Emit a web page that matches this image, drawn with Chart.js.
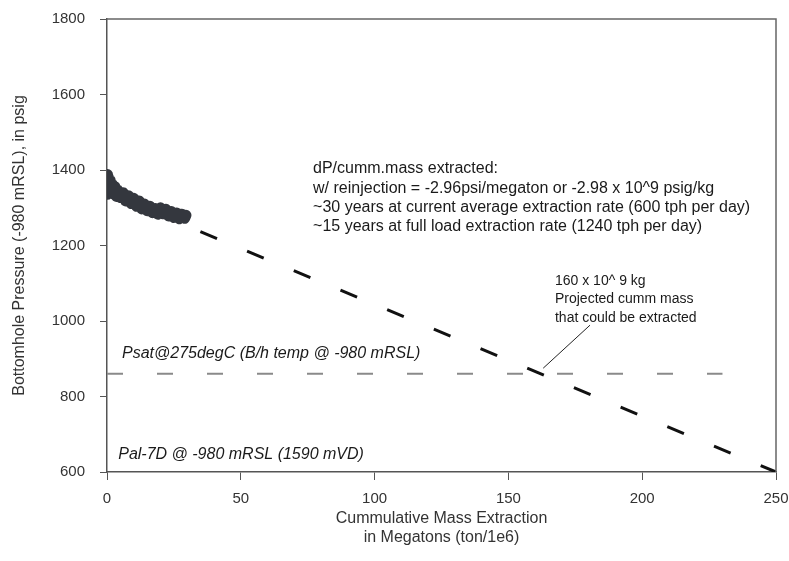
<!DOCTYPE html>
<html>
<head>
<meta charset="utf-8">
<script src="https://cdn.jsdelivr.net/npm/chart.js@4.4.1/dist/chart.umd.min.js"></script>
<style>
  body { margin: 0; background: #fff; }
  canvas { display: block; }
</style>
</head>
<body>
<canvas id="chart" width="789" height="561"></canvas>
<script>
// Axis ranges and ticks
const xRange = [0, 250];
const yRange = [600, 1800];
const xStep = 50;
const yStep = 200;

// Measured bottomhole pressure
const measMass = [0, 0.2, 0.5, 0.8, 1.2, 1.6, 2, 2.5, 3, 3.5, 4, 5, 6, 7, 8, 9, 10, 11, 12, 13, 14, 15, 16, 17, 18, 19, 20, 21, 22, 23, 24, 25, 26, 27, 28, 29, 29.5];
const measPressure = [1388, 1336, 1380, 1345, 1372, 1340, 1362, 1336, 1355, 1330, 1347, 1327, 1340, 1318, 1332, 1311, 1325, 1304, 1318, 1297, 1310, 1292, 1304, 1287, 1298, 1283, 1300, 1284, 1296, 1278, 1290, 1274, 1286, 1271, 1283, 1272, 1280];

// Projection at -2.96 psi/megaton
const projMass = [0, 250];
const projPressure = [1340, 600];

// Saturation pressure at 275 degC
const psatMass = [0, 230];
const psatPressure = [860, 860];

// Leader line for the 160 x 10^9 kg note
const leaderMass = [163, 180.5];
const leaderPressure = [875, 989];

const noteLines = [
    "dP/cumm.mass extracted:",
    "w/ reinjection = -2.96psi/megaton or -2.98 x 10^9 psig/kg",
    "~30 years at current average extraction rate (600 tph per day)",
    "~15 years at full load extraction rate (1240 tph per day)"
];
const massNote = ["160 x 10^ 9 kg", "Projected cumm mass", "that could be extracted"];
const psatLabel = "Psat@275degC (B/h temp @ -980 mRSL)";
const wellLabel = "Pal-7D @ -980 mRSL (1590 mVD)";

const toPoints = (xs, ys) => xs.map((x, i) => ({ x: x, y: ys[i] }));
const FONT = "'Liberation Sans', Arial, sans-serif";

// Frame and text labels
const extrasPlugin = {
    id: 'extras',
    afterDatasetsDraw(chart) {
        const { ctx, chartArea: a, scales: { x, y } } = chart;
        ctx.save();
        ctx.strokeStyle = '#666';
        ctx.lineWidth = 1.5;
        ctx.beginPath();
        ctx.moveTo(a.left, a.top);
        ctx.lineTo(a.right, a.top);
        ctx.lineTo(a.right, a.bottom);
        ctx.stroke();

        ctx.fillStyle = '#1a1a1a';
        ctx.textBaseline = 'middle';
        ctx.textAlign = 'left';

        ctx.font = '16px ' + FONT;
        noteLines.forEach((t, i) => {
            ctx.fillText(t, x.getPixelForValue(77), y.getPixelForValue(1403) + i * 19.3);
        });

        ctx.font = '14px ' + FONT;
        massNote.forEach((t, i) => {
            ctx.fillText(t, x.getPixelForValue(167.4), y.getPixelForValue(1106) + i * 18.5);
        });

        ctx.font = 'italic 16px ' + FONT;
        ctx.fillText(psatLabel, x.getPixelForValue(5.6), y.getPixelForValue(913));
        ctx.fillText(wellLabel, x.getPixelForValue(4.2), y.getPixelForValue(645));
        ctx.restore();
    }
};

new Chart(document.getElementById('chart'), {
    type: 'scatter',
    data: {
        datasets: [
            {
                label: 'Measured',
                data: toPoints(measMass, measPressure),
                showLine: true,
                borderColor: '#34373e',
                backgroundColor: '#34373e',
                borderWidth: 11,
                borderJoinStyle: 'round',
                borderCapStyle: 'round',
                pointRadius: 0
            },
            {
                label: 'Leader',
                data: toPoints(leaderMass, leaderPressure),
                showLine: true,
                borderColor: '#222',
                borderWidth: 1,
                pointRadius: 0
            },
            {
                label: 'Projection',
                data: toPoints(projMass, projPressure),
                showLine: true,
                borderColor: '#111',
                borderWidth: 3,
                borderDash: [18, 32.6],
                pointRadius: 0
            },
            {
                label: 'Psat',
                data: toPoints(psatMass, psatPressure),
                showLine: true,
                borderColor: '#8a8a8a',
                borderWidth: 2,
                borderDash: [16, 34],
                pointRadius: 0
            }
        ]
    },
    options: {
        responsive: false,
        animation: false,
        layout: { padding: { top: 19, right: 13, left: 0, bottom: 0 } },
        plugins: {
            legend: { display: false },
            tooltip: { enabled: false }
        },
        scales: {
            x: {
                type: 'linear',
                min: xRange[0],
                max: xRange[1],
                afterFit(scale) {
                    scale.height = 89;
                    scale.paddingLeft = 0;
                    scale.paddingRight = 0;
                },
                ticks: {
                    stepSize: xStep,
                    padding: 10,
                    color: '#333',
                    font: { family: FONT, size: 15 },
                    callback: v => String(v)
                },
                grid: { drawOnChartArea: false, drawTicks: true, tickLength: 8, color: '#555' },
                border: { display: true, color: '#555', width: 1.5 },
                title: {
                    display: true,
                    text: ['Cummulative Mass Extraction', 'in Megatons (ton/1e6)'],
                    color: '#333',
                    font: { family: FONT, size: 16, lineHeight: 1.2 },
                    padding: { top: 0, bottom: 14 }
                }
            },
            y: {
                type: 'linear',
                min: yRange[0],
                max: yRange[1],
                afterFit(scale) {
                    scale.width = 107;
                    scale.paddingTop = 0;
                    scale.paddingBottom = 0;
                },
                ticks: {
                    stepSize: yStep,
                    padding: 15,
                    color: '#333',
                    font: { family: FONT, size: 15 },
                    callback: v => String(v)
                },
                grid: { drawOnChartArea: false, drawTicks: true, tickLength: 7, color: '#555' },
                border: { display: true, color: '#555', width: 1.5 },
                title: {
                    display: true,
                    text: 'Bottomhole Pressure (-980 mRSL), in psig',
                    color: '#333',
                    font: { family: FONT, size: 16, lineHeight: 1.2 },
                    padding: { top: 10, bottom: 0 }
                }
            }
        }
    },
    plugins: [extrasPlugin]
});
</script>
</body>
</html>
